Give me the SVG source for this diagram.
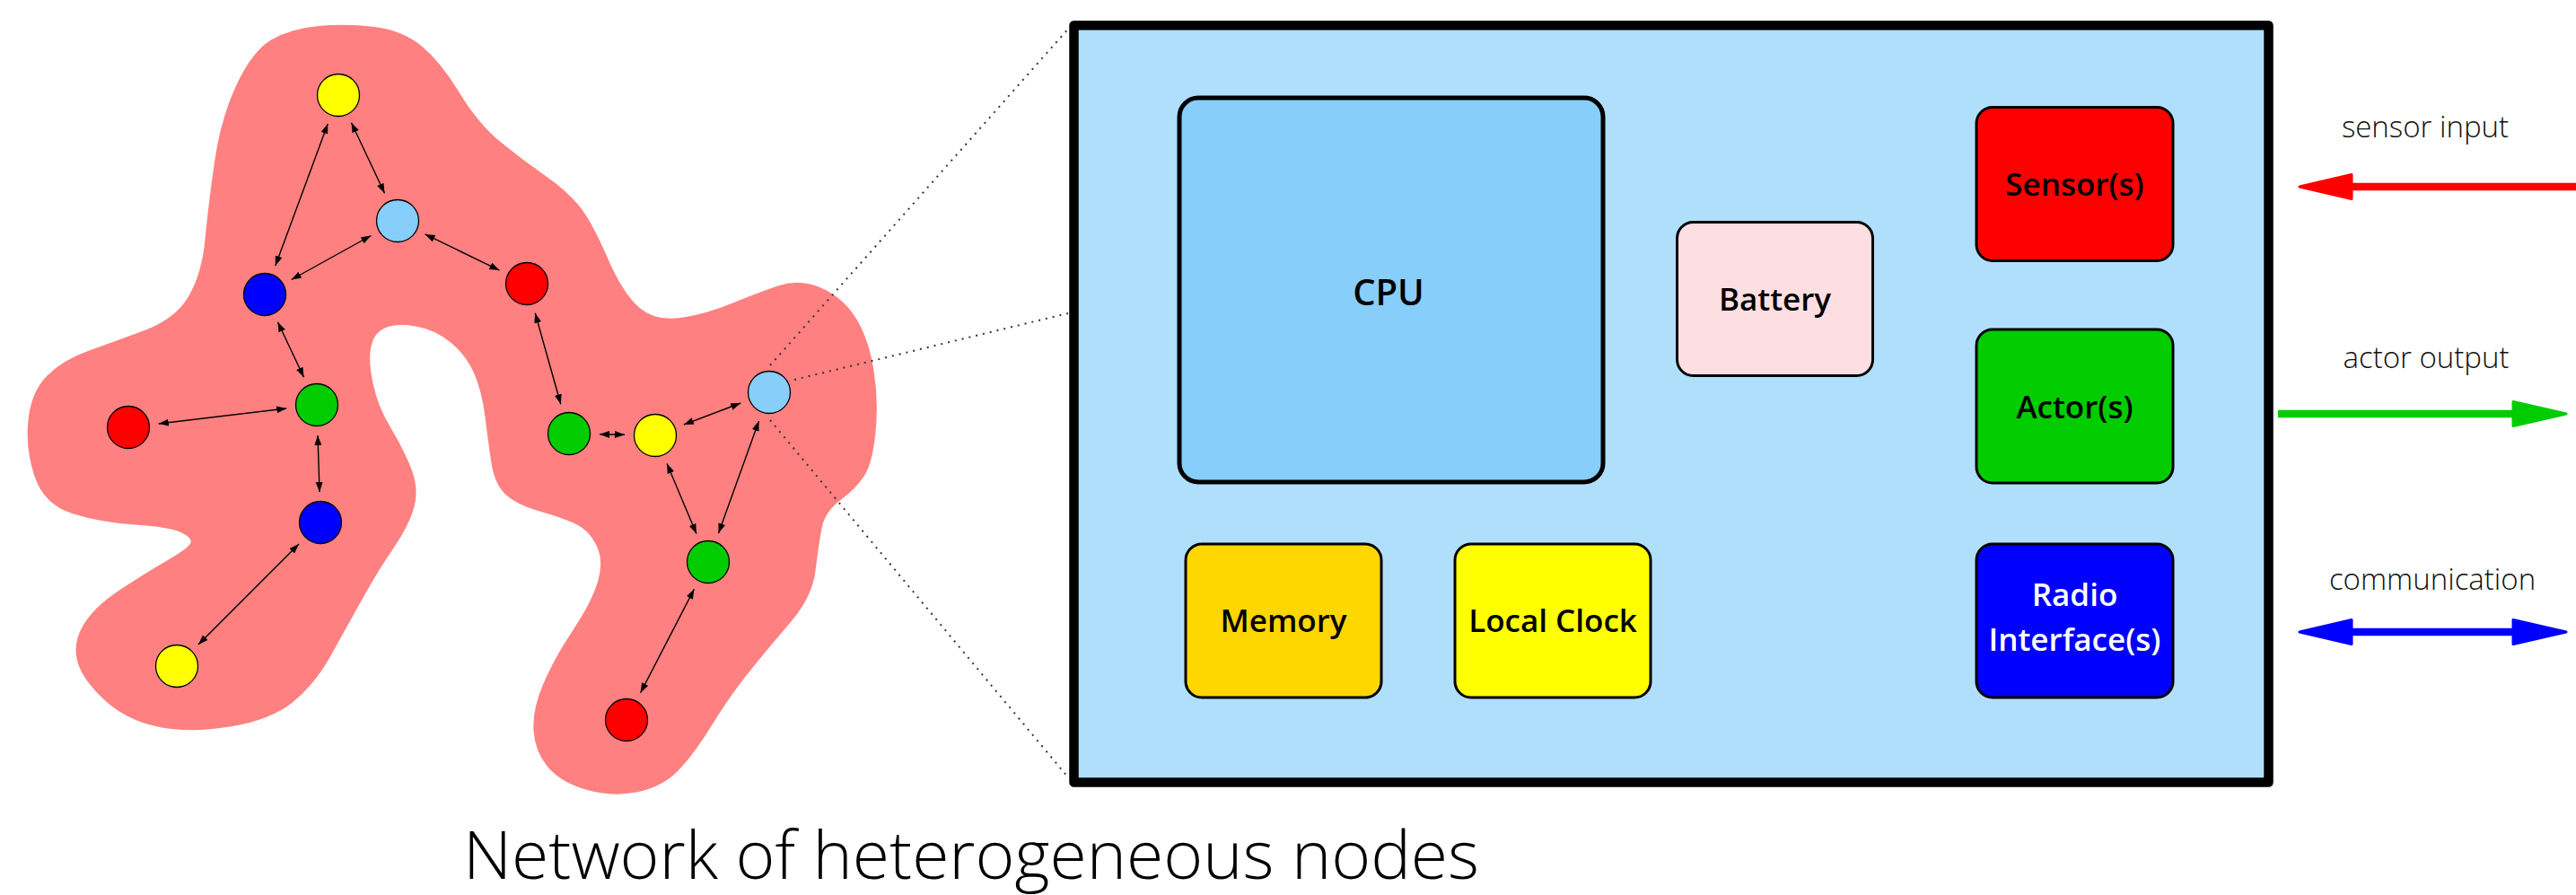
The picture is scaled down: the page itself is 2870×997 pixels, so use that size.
<svg xmlns="http://www.w3.org/2000/svg" width="2870" height="997" viewBox="0 0 2870 997">
<style>
.nd{stroke:#000;stroke-width:1.3}
.cn{stroke:#000;stroke-width:1.4;fill:none;marker-start:url(#ah);marker-end:url(#ah)}
.dot{stroke:#333;stroke-width:2;stroke-dasharray:2 6;fill:none}
.box{stroke:#000;stroke-width:3}
.lbl{font-family:"Open Sans","Noto Sans",sans-serif;font-weight:600;font-size:35px;text-anchor:middle;fill:#000}
.io{font-family:"Open Sans","Noto Sans",sans-serif;font-weight:300;font-size:33px;text-anchor:middle;fill:#111}
</style>
<defs>
<marker id="ah" markerUnits="userSpaceOnUse" markerWidth="14" markerHeight="10" refX="11" refY="4" orient="auto-start-reverse" viewBox="0 0 14 10">
<path d="M0,0 L11,4 L0,8 Z" fill="#000"/>
</marker>
</defs>
<rect width="2870" height="997" fill="#fff"/>
<g id="blob">
<path fill="#FF8080" d="M 354.5 29 Q 386 26 417.5 30 Q 449 34 470 51.5 Q 491 69 512 103.5 Q 533 138 557.5 158 Q 582 178 606.5 195 Q 631 212 645 229 Q 659 246 676.5 286.5 Q 694 327 712 342.5 Q 730 358 758 354 Q 786 350 814 338.5 Q 842 327 866.5 318.5 Q 891 310 915.5 321 Q 940 332 954 355 Q 968 378 973.5 412.5 Q 979 447 975.5 481.5 Q 972 516 963 530 Q 954 544 936.5 557 Q 919 570 915.5 588.5 Q 912 607 908.5 636 Q 905 665 880.5 693.5 Q 856 722 835 748 Q 814 774 793 808 Q 772 842 754.5 859.5 Q 737 877 709 882.5 Q 681 888 652.5 879.5 Q 624 871 610 854 Q 596 837 594.5 814 Q 593 791 605 762.5 Q 617 734 638 702.5 Q 659 671 666 648 Q 673 625 664.5 607.5 Q 656 590 640 583 Q 624 576 599.5 569 Q 575 562 563 550.5 Q 551 539 547.5 516 Q 544 493 540.5 464.5 Q 537 436 528 415.5 Q 519 395 501.5 381 Q 484 367 463 363.5 Q 442 360 429.5 365 Q 417 370 413.5 385.5 Q 410 401 415.5 427 Q 421 453 435 476 Q 449 499 458 521.5 Q 467 544 461.5 564.5 Q 456 585 438.5 610.5 Q 421 636 403.5 667.5 Q 386 699 368.5 730.5 Q 351 762 326.5 782 Q 302 802 256.5 809.5 Q 211 817 175.5 809.5 Q 140 802 115.5 779 Q 91 756 86 736 Q 81 716 93 696 Q 105 676 133 657.5 Q 161 639 186 624.5 Q 211 610 212.5 604.5 Q 214 599 201.5 593 Q 189 587 150.5 584.5 Q 112 582 80.5 572 Q 49 562 38.5 530.5 Q 28 499 31.5 467.5 Q 35 436 52.5 418.5 Q 70 401 98 391 Q 126 381 161 368 Q 196 355 210.5 329.5 Q 225 304 228.5 266.5 Q 232 229 239 180.5 Q 246 132 263.5 94.5 Q 281 57 302 44.5 Q 323 32 354.5 29 Z"/>
</g>
<g id="zoom-lines">
<line class="dot" x1="858" y1="407" x2="1192" y2="30"/>
<line class="dot" x1="885" y1="423" x2="1190" y2="349"/>
<line class="dot" x1="858" y1="468" x2="1190" y2="866"/>
</g>
<g id="connectors">
<line class="cn" x1="365.2" y1="137.9" x2="306.8" y2="296.1"/>
<line class="cn" x1="391.5" y1="136.7" x2="428.5" y2="215.3"/>
<line class="cn" x1="413.3" y1="262.5" x2="324.7" y2="311.5"/>
<line class="cn" x1="473.6" y1="260.9" x2="556.4" y2="301.1"/>
<line class="cn" x1="309.5" y1="358.7" x2="338.5" y2="420.3"/>
<line class="cn" x1="319.2" y1="455" x2="176.8" y2="472"/>
<line class="cn" x1="354" y1="485" x2="356" y2="548"/>
<line class="cn" x1="333" y1="606" x2="221" y2="718"/>
<line class="cn" x1="596.2" y1="348.7" x2="624.8" y2="450.3"/>
<line class="cn" x1="668" y1="483.7" x2="696" y2="484.3"/>
<line class="cn" x1="761.8" y1="473" x2="825.2" y2="449"/>
<line class="cn" x1="743.1" y1="516.4" x2="775.9" y2="594.6"/>
<line class="cn" x1="845.5" y1="469" x2="800.5" y2="594"/>
<line class="cn" x1="773.4" y1="656.2" x2="713.6" y2="771.8"/>
</g>
<g id="n1"><circle class="nd" cx="377" cy="106" r="23.5" fill="#FFFF00"/></g>
<g id="n2"><circle class="nd" cx="443" cy="246" r="23.5" fill="#87CEFA"/></g>
<g id="n3"><circle class="nd" cx="295" cy="328" r="23.5" fill="#0000FF"/></g>
<g id="n4"><circle class="nd" cx="587" cy="316" r="23.5" fill="#FF0000"/></g>
<g id="n5"><circle class="nd" cx="353" cy="451" r="23.5" fill="#00CC00"/></g>
<g id="n6"><circle class="nd" cx="143" cy="476" r="23.5" fill="#FF0000"/></g>
<g id="n7"><circle class="nd" cx="357" cy="582" r="23.5" fill="#0000FF"/></g>
<g id="n8"><circle class="nd" cx="197" cy="742" r="23.5" fill="#FFFF00"/></g>
<g id="n9"><circle class="nd" cx="634" cy="483" r="23.5" fill="#00CC00"/></g>
<g id="n10"><circle class="nd" cx="730" cy="485" r="23.5" fill="#FFFF00"/></g>
<g id="n11"><circle class="nd" cx="857" cy="437" r="23.5" fill="#87CEFA"/></g>
<g id="n12"><circle class="nd" cx="789" cy="626" r="23.5" fill="#00CC00"/></g>
<g id="n13"><circle class="nd" cx="698" cy="802" r="23.5" fill="#FF0000"/></g>
<g id="node-box">
<rect x="1196.5" y="28.3" width="1331" height="843.3" fill="#B0DFFC" stroke="#000" stroke-width="10.5" stroke-linejoin="round"/>
</g>
<g id="cpu">
<rect x="1314" y="109" width="472" height="428" rx="21" fill="#87CEFA" stroke="#000" stroke-width="5"/>
<text class="lbl" x="1547" y="340" style="font-size:40px">CPU</text>
</g>
<g id="battery">
<rect class="box" x="1868.5" y="247.5" width="218" height="171" rx="18" fill="#FDDFE2"/>
<text class="lbl" x="1977.5" y="346">Battery</text>
</g>
<g id="memory">
<rect class="box" x="1321" y="606" width="218" height="171" rx="18" fill="#FFD700"/>
<text class="lbl" x="1430" y="704">Memory</text>
</g>
<g id="clock">
<rect class="box" x="1621" y="606" width="218" height="171" rx="18" fill="#FFFF00"/>
<text class="lbl" x="1730" y="704">Local Clock</text>
</g>
<g id="sensor">
<rect class="box" x="2202" y="119.5" width="219" height="171" rx="18" fill="#FF0000"/>
<text class="lbl" x="2311.5" y="218">Sensor(s)</text>
</g>
<g id="actor">
<rect class="box" x="2202" y="367" width="219" height="171" rx="18" fill="#00CC00"/>
<text class="lbl" x="2311.5" y="466">Actor(s)</text>
</g>
<g id="radio">
<rect class="box" x="2202" y="606" width="219" height="171" rx="18" fill="#0000FF"/>
<text class="lbl" x="2311.5" y="675" fill="#fff" style="fill:#fff">Radio</text>
<text class="lbl" x="2311.5" y="725" style="fill:#fff">Interface(s)</text>
</g>
<g id="io-arrows">
<line x1="2615" y1="208" x2="2870" y2="208" stroke="#FF0000" stroke-width="8.5"/>
<polygon points="2562,208 2620,194.5 2620,221.5" fill="#FF0000" stroke="#FF0000" stroke-width="3" stroke-linejoin="round"/>
<text class="io" x="2702" y="153">sensor input</text>
<line x1="2538" y1="461" x2="2805" y2="461" stroke="#00CC00" stroke-width="8.5"/>
<polygon points="2859,461 2800,447.5 2800,474.5" fill="#00CC00" stroke="#00CC00" stroke-width="3" stroke-linejoin="round"/>
<text class="io" x="2703" y="410">actor output</text>
<line x1="2615" y1="704" x2="2805" y2="704" stroke="#0000FF" stroke-width="8.5"/>
<polygon points="2562,704 2620,690.5 2620,717.5" fill="#0000FF" stroke="#0000FF" stroke-width="3" stroke-linejoin="round"/>
<polygon points="2859,704 2800,690.5 2800,717.5" fill="#0000FF" stroke="#0000FF" stroke-width="3" stroke-linejoin="round"/>
<text class="io" x="2710" y="657">communication</text>
</g>
<g id="title">
<text x="516" y="979" font-family="Open Sans, Noto Sans, sans-serif" font-weight="300" font-size="74" textLength="1132" lengthAdjust="spacingAndGlyphs" fill="#000">Network of heterogeneous nodes</text>
</g>
</svg>
